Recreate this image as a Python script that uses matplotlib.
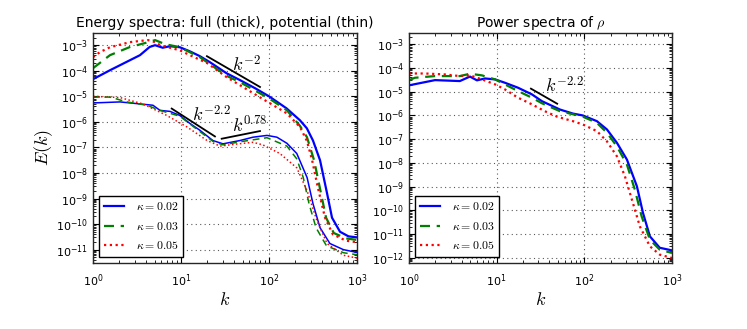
import numpy as np
import matplotlib
matplotlib.use("Agg")
import matplotlib.pyplot as plt
from matplotlib.ticker import LogLocator, NullFormatter

plt.rcParams['mathtext.fontset'] = 'cm'
plt.rcParams['axes.unicode_minus'] = False
plt.rcParams['font.family'] = 'DejaVu Sans'

# values, stored as log10(E)
kappas = ['0.02', '0.03', '0.05']
colors = ['b', 'g', 'r']

# left panel, full energy (thick)
k_full_02 = [1, 1.56, 3.42, 4.4, 5.07, 6.2, 7.5, 9.7, 12.6, 16.4, 21.4, 33, 47, 70, 100,
             158, 225, 269, 316, 380, 457, 520, 641, 800, 1000]
e_full_02 = [-4.33, -3.98, -3.39, -3.07, -3.0, -3.1, -3.04, -3.08, -3.24, -3.43, -3.67, -4.1,
             -4.37, -4.69, -5.0, -5.47, -5.94, -6.25, -6.73, -7.5, -8.8, -9.75, -10.3, -10.48, -10.52]
k_full_03 = [1, 1.56, 2.63, 4.4, 5.07, 6.6, 9.7, 16.4, 33, 47, 100, 160, 225, 270, 325, 390,
             445, 545, 750, 1000]
e_full_03 = [-3.9, -3.39, -3.07, -2.87, -2.8, -2.96, -3.08, -3.47, -4.2, -4.45, -5.08, -5.55,
             -6.16, -6.6, -7.5, -8.8, -9.75, -10.35, -10.56, -10.62]
k_full_05 = [1, 1.2, 1.56, 2.63, 4.2, 5.07, 5.8, 9.7, 12.6, 19.8, 33, 47, 79, 160, 225, 270,
             309, 359, 433, 531, 750, 1000]
e_full_05 = [-3.47, -3.27, -3.08, -2.88, -2.8, -2.88, -3.0, -3.2, -3.39, -3.7, -4.25, -4.57,
             -5.04, -5.67, -6.2, -6.75, -7.5, -8.57, -9.75, -10.4, -10.65, -10.71]

# left panel, potential energy (thin)
k_pot_02 = [1, 2.03, 4.8, 5.77, 7.5, 9.7, 12.6, 16.4, 23, 30, 46.8, 65.8, 94.8, 123, 160, 207,
            271, 316, 380, 492, 700, 1000]
e_pot_02 = [-5.26, -5.22, -5.35, -5.55, -5.59, -5.75, -6.06, -6.33, -6.73, -6.86, -6.73, -6.6,
            -6.53, -6.6, -6.84, -7.24, -8.18, -9.2, -10.14, -10.76, -11.0, -11.11]
k_pot_03 = [1, 1.56, 2.43, 4.1, 5.77, 9.7, 16.4, 23, 30, 46.8, 94.8, 160, 207, 245, 285, 342,
            450, 700, 1000]
e_pot_03 = [-5.03, -5.03, -5.22, -5.35, -5.55, -5.78, -6.38, -6.76, -6.9, -6.78, -6.62, -6.95,
            -7.45, -8.18, -9.2, -10.14, -10.85, -11.12, -11.2]
k_pot_05 = [1, 2.03, 3.7, 6.9, 11.7, 19.8, 27.8, 40, 65.8, 85, 133, 207, 271, 350, 457, 700, 1000]
e_pot_05 = [-5.0, -5.05, -5.3, -5.75, -6.2, -6.73, -6.95, -6.88, -6.8, -6.9, -7.24, -7.8, -8.7,
            -9.86, -10.76, -11.22, -11.33]

# right panel, density power spectra
k_rho_02 = [1, 1.98, 3.8, 4.96, 5.96, 7.36, 9.6, 12.4, 17.5, 25.2, 32.9, 52.7, 74, 96, 139,
            181, 235, 306, 398, 466, 560, 725, 1000]
e_rho_02 = [-4.73, -4.51, -4.55, -4.36, -4.52, -4.44, -4.48, -4.62, -4.83, -5.11, -5.4, -5.75,
            -5.92, -6.0, -6.24, -6.59, -7.15, -7.86, -8.99, -10.1, -11.1, -11.58, -11.69]
k_rho_03 = [1, 1.17, 1.98, 3.8, 4.96, 6.8, 9.6, 12.4, 17.5, 25.2, 33, 52.7, 96, 139, 181, 235,
            306, 377, 450, 560, 725, 1000]
e_rho_03 = [-4.51, -4.41, -4.34, -4.34, -4.24, -4.31, -4.48, -4.69, -4.97, -5.25, -5.49, -5.82,
            -6.05, -6.31, -6.73, -7.3, -8.07, -9.13, -10.25, -11.24, -11.66, -11.8]
k_rho_05 = [1, 1.52, 2.57, 3.8, 4.96, 6.8, 9.6, 12.4, 17.5, 25.2, 35.4, 48.7, 74, 96, 139, 181,
            235, 290, 358, 430, 560, 725, 1000]
e_rho_05 = [-4.23, -4.23, -4.27, -4.34, -4.31, -4.48, -4.69, -4.9, -5.25, -5.53, -5.82, -6.05,
            -6.24, -6.38, -6.66, -7.09, -7.72, -8.56, -9.69, -10.68, -11.52, -11.87, -12.01]

# reference slopes: (k endpoints, log10 E endpoints, label, label k, label log10 E)
slopes_left = [
    ([19.7, 79], [-3.43, -4.635], r'$k^{-2}$', 38, -4.02),
    ([7.84, 24.3], [-5.48, -6.57], r'$k^{-2.2}$', 13.3, -6.0),
    ([29, 79], [-6.66, -6.36], r'$k^{0.78}$', 38, -6.4),
]
slopes_right = [
    ([24.6, 49], [-4.87, -5.505], r'$k^{-2.2}$', 35.5, -5.04),
]

styles = [dict(ls='-'), dict(ls='--', dashes=(4.5, 3)), dict(ls=':', dashes=(1, 1.6))]

fig = plt.figure(figsize=(7.47, 3.29), dpi=100)
ax1 = fig.add_axes([93 / 747, 1 - 263 / 329, 264 / 747, 230 / 329])
ax2 = fig.add_axes([409 / 747, 1 - 263 / 329, 263 / 747, 230 / 329])

full = [(k_full_02, e_full_02), (k_full_03, e_full_03), (k_full_05, e_full_05)]
pot = [(k_pot_02, e_pot_02), (k_pot_03, e_pot_03), (k_pot_05, e_pot_05)]
rho = [(k_rho_02, e_rho_02), (k_rho_03, e_rho_03), (k_rho_05, e_rho_05)]

for i in range(3):
    ax1.loglog(full[i][0], 10.0 ** np.array(full[i][1]), color=colors[i], lw=1.6,
               label=r'$\kappa=%s$' % kappas[i], **styles[i])
    ax1.loglog(pot[i][0], 10.0 ** np.array(pot[i][1]), color=colors[i], lw=1.1, **styles[i])
    ax2.loglog(rho[i][0], 10.0 ** np.array(rho[i][1]), color=colors[i], lw=1.6,
               label=r'$\kappa=%s$' % kappas[i], **styles[i])

for ax, slopes in [(ax1, slopes_left), (ax2, slopes_right)]:
    for ks, es, lab, tk, te in slopes:
        ax.plot(ks, 10.0 ** np.array(es), color='k', lw=1.3)
        ax.text(tk, 10.0 ** te, lab, fontsize=13, ha='left', va='baseline')

ax1.set_ylim(3e-12, 3e-3)
ax2.set_ylim(6e-13, 3e-3)

for ax in (ax1, ax2):
    ax.set_xlim(1, 1000)
    ax.yaxis.set_major_locator(LogLocator(base=10, numticks=30))
    ax.yaxis.set_minor_locator(LogLocator(base=10, subs=np.arange(2, 10), numticks=100))
    ax.yaxis.set_minor_formatter(NullFormatter())
    ax.tick_params(which='both', direction='in', top=True, right=True, labelsize=8)
    ax.tick_params(which='major', length=4, width=0.8)
    ax.tick_params(which='minor', length=2, width=0.6)
    ax.tick_params(axis='x', which='major', pad=7)
    ax.grid(True, which='major', ls=(0, (1, 3)), color='0.35', lw=0.8)
    for s in ax.spines.values():
        s.set_linewidth(1.0)
        s.set_color('0.15')
    ax.set_xlabel(r'$k$', fontsize=13, labelpad=1)
    ax.legend(loc='lower left', fontsize=8.5, frameon=True, fancybox=False,
              edgecolor='k', framealpha=1, handlelength=1.7, handletextpad=1.0,
              labelspacing=0.55, borderaxespad=0.5, borderpad=0.4)

ax1.set_ylabel(r'$E(k)$', fontsize=13, labelpad=1)
ax1.set_title('Energy spectra: full (thick), potential (thin)', fontsize=10, pad=4)
ax2.set_title(r'Power spectra of $\rho$', fontsize=10, pad=4)

fig.savefig('out.png', dpi=100, facecolor='white')
